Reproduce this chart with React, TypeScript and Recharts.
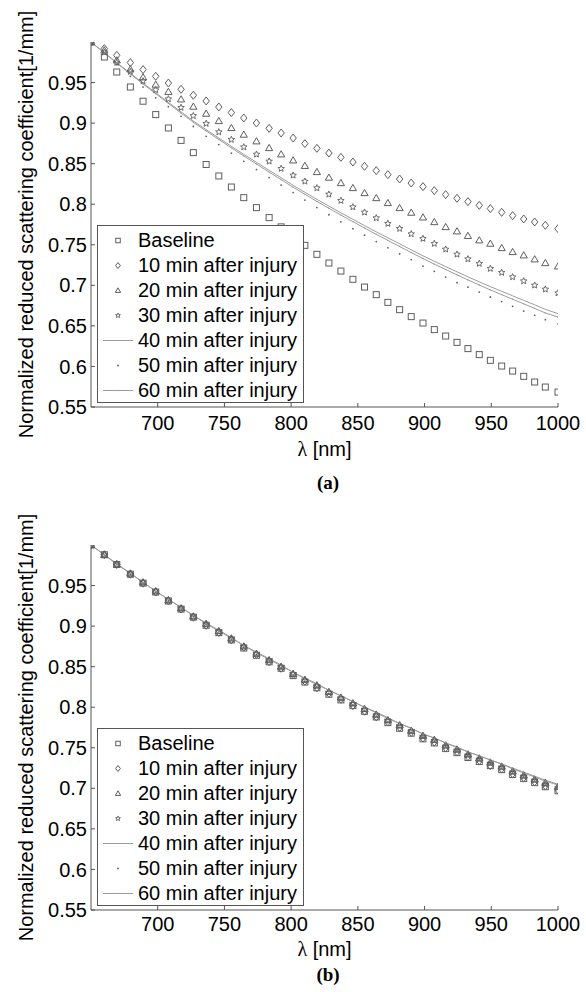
import React from 'react';
import { LineChart, Line, XAxis, YAxis, Legend, Label } from 'recharts';

// wavelengths of the measurement points [nm]
const wavelengths = [
  650, 660, 669.3, 679.5, 689, 698.5, 708, 717.5, 726.7, 736.3,
  745.8, 755.2, 764.5, 774, 783.5, 792.5, 801.5, 810.3, 819.3, 828.3,
  837.3, 846.3, 855, 863.8, 872.5, 881.3, 890, 898.8, 907.3, 915.8,
  924.3, 932.5, 941, 949.3, 957.8, 966, 974.3, 982.5, 990.5, 1000,
];

const xTicks = [700, 750, 800, 850, 900, 950, 1000];
const yTicks = [0.55, 0.6, 0.65, 0.7, 0.75, 0.8, 0.85, 0.9, 0.95];

const seriesNames = [
  'Baseline',
  '10 min after injury',
  '20 min after injury',
  '30 min after injury',
  '40 min after injury',
  '50 min after injury',
  '60 min after injury',
];

// panel (a)
const baselineA = [
  1.0, 0.9815, 0.963, 0.9445, 0.927, 0.9105, 0.894, 0.8787, 0.8636, 0.849,
  0.8348, 0.8212, 0.8081, 0.7958, 0.7835, 0.7721, 0.7604, 0.7493, 0.7382, 0.7275,
  0.7176, 0.7074, 0.6979, 0.6885, 0.679, 0.67, 0.6614, 0.6535, 0.6454, 0.6375,
  0.6297, 0.622, 0.6146, 0.6075, 0.6005, 0.5943, 0.5878, 0.5808, 0.5746, 0.5684,
];
const min10A = [
  1.0, 0.9919, 0.9836, 0.9746, 0.966, 0.9577, 0.9494, 0.9417, 0.9343, 0.9273,
  0.9199, 0.913, 0.9063, 0.9001, 0.8936, 0.8878, 0.8816, 0.8747, 0.8689, 0.8631,
  0.8578, 0.852, 0.8467, 0.8414, 0.8365, 0.8311, 0.8261, 0.8217, 0.8168, 0.8118,
  0.8073, 0.8032, 0.7986, 0.7946, 0.79, 0.7859, 0.7818, 0.7781, 0.774, 0.7699,
];
const min20A = [
  1.0, 0.9898, 0.9774, 0.9663, 0.9565, 0.9475, 0.9386, 0.9293, 0.9203, 0.9117,
  0.9026, 0.894, 0.8858, 0.8776, 0.8693, 0.8615, 0.8541, 0.8473, 0.8397, 0.8328,
  0.8261, 0.82, 0.8138, 0.8076, 0.8015, 0.7953, 0.7896, 0.7838, 0.778, 0.7719,
  0.7666, 0.761, 0.7555, 0.7514, 0.746, 0.7411, 0.737, 0.7321, 0.7275, 0.7234,
];
const min30A = [
  1.0, 0.9873, 0.9746, 0.9635, 0.9519, 0.9408, 0.9297, 0.9191, 0.909, 0.8994,
  0.889, 0.8797, 0.8705, 0.8615, 0.8529, 0.8439, 0.8356, 0.8282, 0.82, 0.8122,
  0.8044, 0.7965, 0.79, 0.783, 0.7761, 0.7699, 0.7633, 0.7576, 0.7514, 0.7444,
  0.7382, 0.7324, 0.7268, 0.7206, 0.7157, 0.7102, 0.7053, 0.7, 0.6951, 0.6905,
];
const min40A = [
  1.0, 0.9869, 0.9746, 0.9614, 0.9493, 0.9374, 0.9256, 0.9139, 0.9026, 0.892,
  0.8816, 0.8714, 0.8615, 0.8517, 0.8418, 0.8326, 0.8233, 0.8147, 0.806, 0.7977,
  0.7894, 0.7814, 0.7736, 0.766, 0.7586, 0.7512, 0.7438, 0.7364, 0.7296, 0.7231,
  0.7167, 0.7105, 0.7043, 0.6984, 0.6926, 0.6871, 0.6815, 0.676, 0.6704, 0.6651,
];
const min50A = [
  1.0, 0.9857, 0.9721, 0.9577, 0.9444, 0.9312, 0.9203, 0.9084, 0.8958, 0.8837,
  0.8735, 0.8631, 0.8529, 0.8427, 0.8328, 0.8236, 0.8143, 0.8051, 0.7959, 0.787,
  0.7783, 0.7699, 0.7618, 0.7539, 0.7462, 0.7387, 0.7317, 0.7238, 0.7173, 0.7102,
  0.7033, 0.6977, 0.6917, 0.6856, 0.68, 0.6741, 0.6683, 0.663, 0.6577, 0.6525,
];
const min60A = [
  1.0, 0.9865, 0.9739, 0.9605, 0.9482, 0.9362, 0.9243, 0.9124, 0.901, 0.8903,
  0.8798, 0.8695, 0.8595, 0.8496, 0.8396, 0.8303, 0.8209, 0.8122, 0.8034, 0.795,
  0.7866, 0.7785, 0.7706, 0.7629, 0.7554, 0.7479, 0.7404, 0.733, 0.7261, 0.7195,
  0.713, 0.7067, 0.7004, 0.6944, 0.6885, 0.6829, 0.6772, 0.6716, 0.6659, 0.6609,
];

// panel (b)
const baselineB = [
  1.0, 0.988, 0.976, 0.964, 0.953, 0.942, 0.931, 0.921, 0.911, 0.901,
  0.892, 0.883, 0.873, 0.864, 0.856, 0.848, 0.839, 0.831, 0.824, 0.816,
  0.809, 0.802, 0.795, 0.788, 0.781, 0.774, 0.768, 0.761, 0.756, 0.749,
  0.744, 0.738, 0.733, 0.728, 0.723, 0.717, 0.712, 0.707, 0.702, 0.697,
];
const min10B = [
  1.0, 0.988, 0.976, 0.964, 0.953, 0.942, 0.931, 0.921, 0.911, 0.901,
  0.892, 0.883, 0.874, 0.865, 0.856, 0.848, 0.84, 0.832, 0.824, 0.817,
  0.81, 0.802, 0.795, 0.788, 0.782, 0.775, 0.769, 0.762, 0.757, 0.75,
  0.745, 0.739, 0.734, 0.728, 0.724, 0.718, 0.713, 0.708, 0.703, 0.698,
];
const min20B = [
  1.0, 0.988, 0.976, 0.965, 0.954, 0.943, 0.932, 0.922, 0.912, 0.903,
  0.894, 0.885, 0.875, 0.866, 0.858, 0.85, 0.841, 0.834, 0.827, 0.819,
  0.812, 0.805, 0.798, 0.791, 0.784, 0.778, 0.771, 0.765, 0.76, 0.753,
  0.748, 0.742, 0.737, 0.732, 0.727, 0.721, 0.716, 0.711, 0.707, 0.702,
];
const min30B = [
  1.0, 0.988, 0.976, 0.964, 0.954, 0.943, 0.932, 0.922, 0.912, 0.902,
  0.893, 0.884, 0.875, 0.866, 0.858, 0.85, 0.841, 0.833, 0.826, 0.818,
  0.811, 0.804, 0.797, 0.79, 0.784, 0.777, 0.771, 0.764, 0.759, 0.752,
  0.747, 0.741, 0.736, 0.731, 0.726, 0.72, 0.715, 0.71, 0.705, 0.701,
];
const min40B = [
  1.0, 0.988, 0.977, 0.965, 0.954, 0.943, 0.933, 0.923, 0.913, 0.904,
  0.895, 0.886, 0.876, 0.868, 0.86, 0.852, 0.843, 0.836, 0.829, 0.821,
  0.814, 0.807, 0.8, 0.794, 0.787, 0.78, 0.774, 0.767, 0.762, 0.756,
  0.751, 0.745, 0.74, 0.735, 0.73, 0.725, 0.72, 0.715, 0.71, 0.705,
];
const min50B = [
  1.0, 0.988, 0.976, 0.964, 0.953, 0.942, 0.931, 0.921, 0.912, 0.902,
  0.893, 0.884, 0.874, 0.865, 0.857, 0.849, 0.84, 0.832, 0.825, 0.817,
  0.81, 0.803, 0.796, 0.789, 0.782, 0.775, 0.769, 0.763, 0.758, 0.751,
  0.746, 0.74, 0.735, 0.73, 0.725, 0.719, 0.714, 0.709, 0.704, 0.699,
];
const min60B = [
  1.0, 0.988, 0.976, 0.965, 0.954, 0.943, 0.933, 0.923, 0.913, 0.903,
  0.894, 0.885, 0.876, 0.867, 0.859, 0.851, 0.843, 0.835, 0.828, 0.821,
  0.814, 0.807, 0.8, 0.793, 0.786, 0.78, 0.774, 0.767, 0.762, 0.756,
  0.75, 0.745, 0.74, 0.735, 0.73, 0.724, 0.719, 0.714, 0.709, 0.704,
];

const MARK = '#5e5e5e';
const LINE = '#9c9c9c';
const AXIS = '#555';
const FONT = '"Liberation Sans", Arial, Helvetica, sans-serif';

type Kind = 'square' | 'diamond' | 'triangle' | 'star' | 'line' | 'dot' | 'lineDot';
const kinds: Kind[] = ['square', 'diamond', 'triangle', 'star', 'line', 'dot', 'lineDot'];

const buildRows = (cols: number[][]) =>
  wavelengths.map((x, i) => {
    const row: Record<string, number> = { x };
    cols.forEach((c, j) => {
      row[`s${j}`] = c[i];
    });
    return row;
  });

const rowsA = buildRows([baselineA, min10A, min20A, min30A, min40A, min50A, min60A]);
const rowsB = buildRows([baselineB, min10B, min20B, min30B, min40B, min50B, min60B]);

const starPath = (cx: number, cy: number, r: number) => {
  const pts: string[] = [];
  for (let k = 0; k < 10; k++) {
    const rr = k % 2 === 0 ? r : r * 0.45;
    const a = -Math.PI / 2 + (k * Math.PI) / 5;
    pts.push(`${(cx + rr * Math.cos(a)).toFixed(2)},${(cy + rr * Math.sin(a)).toFixed(2)}`);
  }
  return `M${pts.join('L')}Z`;
};

// one marker glyph, s = scale (1 in plot, smaller in legend)
const Marker = ({ kind, cx, cy, s = 1 }: { kind: Kind; cx: number; cy: number; s?: number }) => {
  const st = { fill: 'none', stroke: MARK, strokeWidth: 1 };
  switch (kind) {
    case 'square':
      return <rect x={cx - 3 * s} y={cy - 3 * s} width={6 * s} height={6 * s} {...st} />;
    case 'diamond':
      return (
        <path
          d={`M${cx},${cy - 4 * s}L${cx + 3.2 * s},${cy}L${cx},${cy + 4 * s}L${cx - 3.2 * s},${cy}Z`}
          {...st}
        />
      );
    case 'triangle':
      return (
        <path
          d={`M${cx},${cy - 3.6 * s}L${cx + 3.6 * s},${cy + 2.6 * s}L${cx - 3.6 * s},${cy + 2.6 * s}Z`}
          {...st}
        />
      );
    case 'star':
      return <path d={starPath(cx, cy, 3.4 * s)} fill="none" stroke={MARK} strokeWidth={0.9} />;
    case 'dot':
      return <circle cx={cx} cy={cy} r={0.9} fill={MARK} />;
    case 'lineDot':
      return <circle cx={cx} cy={cy} r={0.7} fill={LINE} />;
    default:
      return null;
  }
};

const renderDot = (kind: Kind) => (p: any) => {
  if (p.cx == null || p.cy == null) return <g key={p.index} />;
  return (
    <g key={p.index}>
      <Marker kind={kind} cx={p.cx} cy={p.cy} />
    </g>
  );
};

const LegendBox = () => (
  <div
    style={{
      width: 207,
      height: 178,
      boxSizing: 'border-box',
      border: `1px solid ${AXIS}`,
      background: '#fff',
      paddingTop: 2,
      fontFamily: FONT,
      fontSize: 20,
      color: '#000',
    }}
  >
    {seriesNames.map((name, i) => (
      <div key={name} style={{ height: 25, display: 'flex', alignItems: 'center' }}>
        <svg width={40} height={25} style={{ flex: 'none' }}>
          {(kinds[i] === 'line' || kinds[i] === 'lineDot') && (
            <line x1={5} x2={35} y1={12.5} y2={12.5} stroke={LINE} strokeWidth={1} />
          )}
          <Marker kind={kinds[i]} cx={20} cy={12.5} s={0.75} />
        </svg>
        <span style={{ whiteSpace: 'nowrap', lineHeight: '25px' }}>{name}</span>
      </div>
    ))}
  </div>
);

const tickStyle = { fill: '#000', fontSize: 20, fontFamily: FONT };

const XLabel = ({ viewBox, offset }: any) => {
  const cx = viewBox.x + viewBox.width / 2;
  const y = viewBox.y + viewBox.height - offset;
  return (
    <text x={cx} y={y} textAnchor="middle" fill="#000" fontSize={20} fontFamily={FONT}>
      <tspan fontFamily='"Liberation Serif", "Times New Roman", serif'>λ</tspan>
      <tspan> [nm]</tspan>
    </text>
  );
};

const Panel = ({
  rows,
  top,
  labelOffset,
  tickGap,
}: {
  rows: any[];
  top: number;
  labelOffset: number;
  tickGap: number;
}) => (
  <div style={{ position: 'absolute', left: 0, top, width: 586, height: 470 }}>
    <LineChart width={586} height={470} data={rows} margin={{ top: 42, right: 28, bottom: 0, left: 0 }}>
      <XAxis
        dataKey="x"
        type="number"
        domain={[650, 1000]}
        ticks={xTicks}
        allowDataOverflow
        height={63}
        tickSize={-4}
        tickMargin={tickGap}
        axisLine={{ stroke: AXIS }}
        tickLine={{ stroke: AXIS }}
        tick={tickStyle}
      >
        <Label position="insideBottom" offset={labelOffset} content={(p: any) => <XLabel {...p} offset={labelOffset} />} />
      </XAxis>
      <XAxis
        xAxisId="top"
        orientation="top"
        dataKey="x"
        type="number"
        domain={[650, 1000]}
        ticks={xTicks}
        allowDataOverflow
        height={0}
        tickSize={-4}
        axisLine={{ stroke: AXIS }}
        tickLine={{ stroke: AXIS }}
        tickFormatter={() => ''}
      />
      <YAxis
        type="number"
        domain={[0.55, 1]}
        ticks={yTicks}
        allowDataOverflow
        width={91}
        tickSize={-4}
        tickMargin={8}
        axisLine={{ stroke: AXIS }}
        tickLine={{ stroke: AXIS }}
        tick={tickStyle}
      >
        <Label
          value="Normalized reduced scattering coefficient[1/mm]"
          angle={-90}
          position="insideLeft"
          offset={26}
          style={{ textAnchor: 'middle', fill: '#000', fontSize: 20, fontFamily: FONT }}
        />
      </YAxis>
      <YAxis
        yAxisId="right"
        orientation="right"
        type="number"
        domain={[0.55, 1]}
        ticks={yTicks}
        allowDataOverflow
        width={0}
        tickSize={-4}
        axisLine={{ stroke: AXIS }}
        tickLine={{ stroke: AXIS }}
        tickFormatter={() => ''}
      />
      {kinds.map((kind, j) => (
        <Line
          key={kind}
          dataKey={`s${j}`}
          name={seriesNames[j]}
          type="linear"
          stroke={kind === 'line' || kind === 'lineDot' ? LINE : 'none'}
          strokeWidth={1}
          dot={kind === 'line' ? false : renderDot(kind)}
          activeDot={false}
          isAnimationActive={false}
        />
      ))}
      <Legend
        layout="vertical"
        align="center"
        verticalAlign="middle"
        content={() => <LegendBox />}
        wrapperStyle={{ left: 97, top: 225, width: 207, height: 178 }}
      />
    </LineChart>
  </div>
);

const Caption = ({ text, y }: { text: string; y: number }) => (
  <div
    style={{
      position: 'absolute',
      left: 278,
      top: y - 12,
      width: 100,
      height: 24,
      lineHeight: '24px',
      textAlign: 'center',
      fontFamily: '"Liberation Serif", "Times New Roman", serif',
      fontWeight: 'bold',
      fontSize: 19,
      color: '#000',
    }}
  >
    {text}
  </div>
);

export default function App() {
  return (
    <div style={{ position: 'absolute', left: 0, top: 0, width: 586, height: 992, background: '#fff' }}>
      <Panel rows={rowsA} top={0} labelOffset={14} tickGap={13} />
      <Caption text="(a)" y={483} />
      <Panel rows={rowsB} top={503} labelOffset={17} tickGap={11} />
      <Caption text="(b)" y={975} />
    </div>
  );
}
